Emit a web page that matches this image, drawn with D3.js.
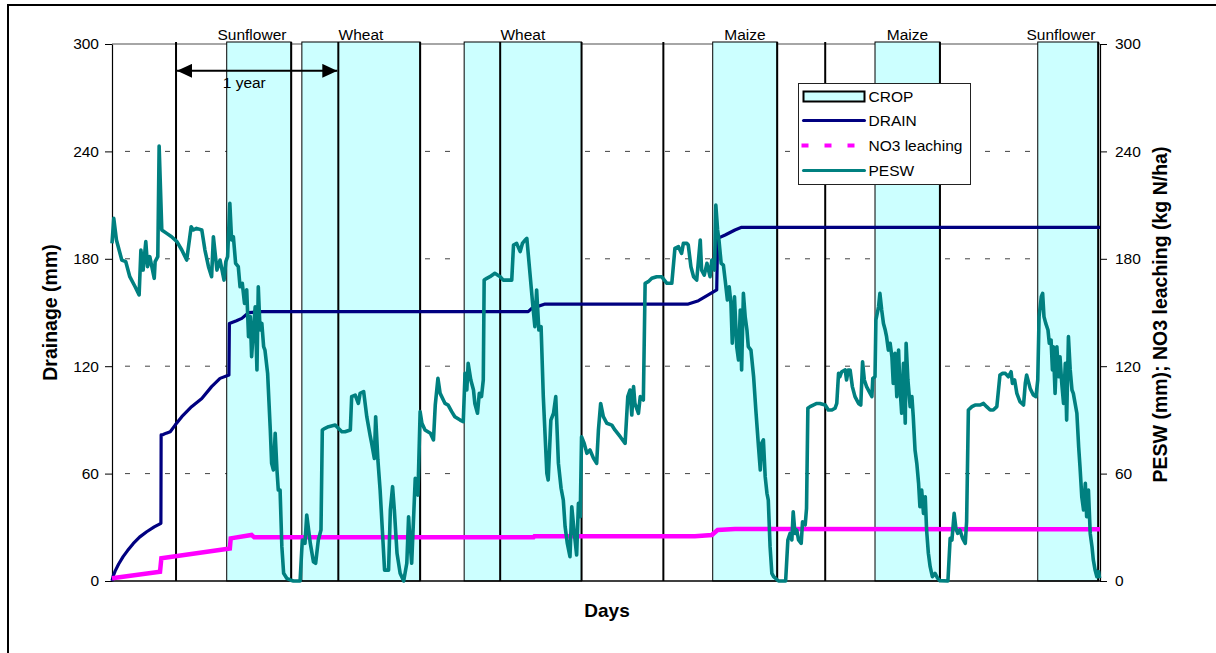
<!DOCTYPE html>
<html><head><meta charset="utf-8">
<script src="https://cdn.jsdelivr.net/npm/d3@7"></script>
<style>
body{margin:0;background:#fff}
svg{display:block}
text{font-family:"Liberation Sans",Arial,sans-serif;fill:#000}
</style>
</head><body>
<svg id="chart" width="1216" height="653"></svg>
<script>
// ---------------- data ----------------
const cropNames = ["Sunflower","Wheat","Wheat","Maize","Maize","Sunflower"];
const cropStart = [258, 427, 792, 1351, 1716, 2082];
const cropEnd   = [403, 693, 1056, 1496, 1862, 2218];
const yearMarks = [144, 509, 873, 1240, 1604];
const yTicks = [0, 60, 120, 180, 240, 300];
const dayDomain = [0, 2222];
const yearArrow = [144, 509];

const drainSeries = [[0,0],[3,3],[7,5.5],[15,9.5],[25,13.6],[35,17],[48,21],[62,24.5],[78,27.5],[95,30.2],[110,32.2],
  [110.5,81.6],[115,81.8],[122,82.6],[131,83.4],[142,87.1],[157,91.8],[179,97.4],[202,102],[224,108.6],[243,113.2],[263,115.1],
  [264,143.9],[280,145.4],[292,146.7],[307,149.9],[337,150.5],[936,150.5],[944,152.3],[974,154.7],[1296,154.7],[1319,156.6],
  [1341,159.8],[1360,162.6],[1362,191.4],[1379,193.3],[1401,196.1],[1416,197.6],[2222,197.6]];

const no3Series = [[0,1.5],[108,5.2],[111,12.7],[265,18.2],[267,23.8],[314,25.7],[320,24.4],[948,24.4],[950,25.0],
  [1311,25.0],[1349,25.7],[1362,28.5],[1401,29.0],[2222,28.9]];

const peswSeries = [
 [0,188.6],[4,202.6],[10,190.5],[22,179.3],[31,178.4],[40,170.0],[52,164.4],[61,159.8],[65,184.9],[70,173.7],[76,189.6],[80,175.6],
 [85,181.2],[95,169.1],[97,178.4],[103,181.2],[106,243.0],[112,196.1],[123,194.2],[134,192.3],[146,189.6],[157,184.9],[168,179.3],
 [178,197.9],[183,196.1],[190,197.0],[202,196.1],[209,184.9],[217,175.6],[224,170.0],[228,192.3],[236,173.7],[243,179.3],[252,168.1],
 [256,178.4],[260,181.2],[265,211.0],[269,190.5],[273,192.3],[278,177.5],[284,175.6],[288,164.4],[293,166.3],[298,155.1],[300,160.7],
 [303,162.6],[307,136.5],[311,147.7],[314,125.3],[318,140.2],[322,153.2],[326,117.9],[329,164.4],[333,140.2],[337,143.9],[341,130.9],
 [344,129.0],[350,116.0],[356,84.4],[359,65.7],[363,62.0],[367,82.5],[371,62.0],[374,50.8],[378,50.8],[382,19.2],[386,4.3],[393,1.5],
 [401,0.6],[408,0],[423,0],[428,22.9],[434,21.0],[438,36.9],[446,21.0],[453,10.8],[458,9.9],[464,22.9],[470,28.5],[473,84.4],
 [479,85.3],[487,86.2],[502,87.1],[509,85.3],[517,83.4],[524,83.4],[536,84.4],[539,103.0],[547,103.9],[554,99.2],[558,104.8],
 [566,105.8],[573,91.8],[581,80.6],[584,76.9],[590,68.5],[593,91.8],[598,67.6],[603,50.8],[608,28.5],[613,6.1],[622,6.1],[626,39.7],
 [631,52.7],[635,39.7],[641,15.5],[648,4.3],[656,0],[663,9.9],[667,35.9],[671,19.2],[674,9.9],[682,57.4],[688,48.0],[693,94.6],
 [697,88.1],[704,84.4],[716,82.5],[723,78.8],[727,98.3],[733,113.2],[738,104.8],[749,99.2],
 [756,98.3],[764,94.6],[771,91.8],[783,89.9],[790,89.0],[794,116.0],[798,106.7],[801,121.6],[807,112.3],[813,106.7],[816,99.2],
 [822,93.7],[826,104.8],[831,103.0],[835,112.3],[837,168.1],[843,169.1],[850,170.0],[861,171.9],[873,170.0],[880,168.1],[888,168.1],
 [899,168.1],[903,187.7],[910,188.6],[918,184.0],[923,188.6],[929,190.5],[933,191.4],[940,171.9],[946,155.1],[951,142.1],[955,162.6],
 [960,140.2],[965,142.1],[970,103.0],[978,60.1],[981,56.4],[987,89.9],[993,93.7],[998,103.0],[1004,65.7],[1010,51.8],[1015,45.2],
 [1019,30.4],[1024,21.0],[1030,13.6],[1034,41.5],[1039,28.5],[1045,14.5],[1049,43.4],[1053,35.9],[1056,80.6],[1062,76.9],[1068,71.3],
 [1075,73.2],[1083,68.5],[1090,65.7],[1094,84.4],[1099,99.2],[1105,91.8],[1113,88.1],[1124,87.1],[1131,84.4],[1143,80.6],[1154,76.9],
 [1160,103.0],[1165,106.7],[1169,92.7],[1173,108.6],[1176,99.2],[1184,93.7],[1188,103.0],[1195,101.1],[1199,166.3],[1206,167.2],
 [1214,169.1],[1225,170.0],[1236,170.0],[1248,166.3],[1259,166.3],[1266,185.8],[1274,186.8],[1281,183.0],[1285,188.6],[1293,188.6],
 [1296,187.7],[1302,175.6],[1308,170.0],[1315,168.1],[1323,190.5],[1326,173.7],[1332,170.9],[1338,177.5],[1345,170.0],[1349,179.3],
 [1355,173.7],[1358,210.0],[1362,196.1],[1365,190.5],[1370,177.5],[1375,176.5],[1379,168.1],[1384,157.0],[1388,164.4],[1392,155.1],
 [1395,132.8],[1400,158.8],[1405,130.9],[1409,123.5],[1413,151.4],[1416,117.9],[1420,160.7],[1424,147.7],[1428,140.2],[1431,130.9],
 [1437,129.0],[1443,114.1],[1448,95.5],[1454,75.0],[1458,62.0],[1461,76.9],[1465,78.8],[1469,58.3],[1473,49.0],[1476,45.2],
 [1480,19.2],[1484,4.3],[1488,2.4],
 [1499,0],[1515,0],[1520,22.9],[1525,26.6],[1529,22.9],[1532,38.7],[1536,26.6],[1540,28.5],[1544,22.9],[1550,21.0],[1553,33.1],
 [1559,31.3],[1562,40.6],[1565,96.5],[1570,97.4],[1577,98.3],[1585,99.2],[1592,99.2],[1604,98.3],[1611,95.5],[1619,95.5],[1626,96.5],
 [1630,99.2],[1634,116.0],[1637,114.1],[1641,116.9],[1649,117.9],[1652,112.3],[1656,117.9],[1660,117.9],[1665,108.6],[1671,103.0],
 [1679,99.2],[1684,98.3],[1688,122.5],[1692,112.3],[1697,108.6],[1705,104.8],[1709,103.0],[1711,113.2],[1716,114.1],[1718,145.8],
 [1724,153.2],[1727,160.7],[1731,151.4],[1735,143.9],[1739,140.2],[1742,136.5],[1746,129.0],[1750,132.8],[1754,125.3],[1757,110.4],
 [1761,127.2],[1765,103.0],[1769,129.0],[1772,108.6],[1776,93.7],[1780,121.6],[1784,88.1],[1786,132.8],[1790,112.3],[1795,97.4],
 [1799,103.0],[1802,91.8],[1806,73.2],[1810,65.7],[1814,54.6],[1817,41.5],[1821,50.8],[1825,37.8],[1829,47.1],[1832,28.5],[1836,15.5],
 [1840,8.0],[1845,2.4],[1851,4.3],[1857,1.5],[1862,0.2],[1880,0],[1885,23.8],[1889,22.9],[1894,37.8],[1898,29.4],[1902,26.6],
 [1907,28.5],[1913,23.8],[1919,21.0],[1922,33.1],[1926,95.5],[1934,97.4],[1941,98.3],[1952,98.3],[1960,99.2],[1967,97.4],[1975,95.5],
 [1982,95.5],[1990,97.4],[1997,115.1],[2003,116.0],[2009,116.0],[2016,114.1],[2022,116.9],[2025,110.4],[2030,112.3],[2035,104.8],
 [2042,100.2],[2050,98.3],[2054,110.4],[2057,115.1],[2065,107.6],[2072,103.9],[2078,103.0],[2082,112.3],[2085,147.7],[2090,158.8],
 [2093,160.7],[2096,147.7],[2100,143.9],[2105,140.2],[2108,132.8],[2112,134.6],[2115,117.9],[2117,130.9],[2121,104.8],[2125,130.9],
 [2129,114.1],[2132,125.3],[2136,110.4],[2140,99.2],[2144,121.6],[2147,89.9],[2151,136.5],[2155,117.9],[2159,106.7],[2162,104.8],
 [2170,93.7],[2174,75.0],[2177,63.9],[2181,47.1],[2185,39.7],[2189,54.6],[2192,35.9],[2196,50.8],[2200,26.6],[2204,19.2],[2207,11.7],
 [2211,6.1],[2215,2.4],[2219,5.2],[2221,1.5]];

const legendItems = ["CROP","DRAIN","NO3 leaching","PESW"];

// ---------------- drawing ----------------
const svg = d3.select("#chart");
const L = 112, R = 1100, T = 44, B = 581;
const x = d3.scaleLinear().domain(dayDomain).range([L, R]);
const y = d3.scaleLinear().domain([0, 300]).range([B, T]);

const C = {crop:"#CCFFFF", drain:"#000080", no3:"#FF00FF", pesw:"#008080"};

// outer frame (cropped at right/bottom)
svg.append("rect").attr("x",8).attr("y",5).attr("width",1240).attr("height",700)
  .attr("fill","none").attr("stroke","#000").attr("stroke-width",2);

// gridlines
svg.append("g").selectAll("line").data(yTicks.filter(t => t > 0 && t < 300)).join("line")
  .attr("x1", L).attr("x2", R).attr("y1", d => y(d)).attr("y2", d => y(d))
  .attr("stroke", "#444").attr("stroke-width", 1).attr("stroke-dasharray", "5,15").attr("stroke-dashoffset", 7);
// top line at 300
svg.append("line").attr("x1",L).attr("x2",R).attr("y1",y(300)).attr("y2",y(300))
  .attr("stroke","#888").attr("stroke-width",1.5);

// crop bars
const crops = cropNames.map((n,i) => ({name:n, s:cropStart[i], e:cropEnd[i]}));
svg.append("g").selectAll("rect").data(crops).join("rect")
  .attr("x", d => x(d.s)).attr("width", d => x(d.e) - x(d.s))
  .attr("y", y(300) - 2).attr("height", y(0) - y(300) + 2)
  .attr("fill", C.crop).attr("stroke", "#000").attr("stroke-width", 1);

// year marks and harvest lines
svg.append("g").selectAll("line").data(yearMarks.concat(cropEnd)).join("line")
  .attr("x1", d => x(d)).attr("x2", d => x(d)).attr("y1", y(300) - 2).attr("y2", y(0))
  .attr("stroke", "#000").attr("stroke-width", 2);

// crop labels
svg.append("g").selectAll("text").data(crops).join("text")
  .attr("x", d => x((d.s + d.e) / 2) - (d.name === "Sunflower" ? 7 : 0)).attr("y", y(300) - 4)
  .attr("text-anchor", "middle").style("font-size", "15.5px").text(d => d.name);

// axes
const yl = svg.append("g").attr("transform", `translate(${L},0)`)
  .call(d3.axisLeft(y).tickValues(yTicks).tickSize(7).tickPadding(6).tickSizeOuter(0));
const yr = svg.append("g").attr("transform", `translate(${R},0)`)
  .call(d3.axisRight(y).tickValues(yTicks).tickSize(7).tickPadding(8).tickSizeOuter(0));
[yl, yr].forEach(g => {
  g.select(".domain").attr("stroke", "#000").attr("stroke-width", 1.2);
  g.selectAll(".tick line").attr("stroke", "#000");
  g.selectAll(".tick text").style("font-size", "15.5px").style("font-family", '"Liberation Sans",Arial,sans-serif');
});
svg.append("line").attr("x1", L).attr("x2", R).attr("y1", B).attr("y2", B)
  .attr("stroke", "#000").attr("stroke-width", 1.5);

// series lines
const line = d3.line().x(d => x(d[0])).y(d => y(d[1]));
svg.append("path").datum(drainSeries).attr("d", line).attr("fill", "none")
  .attr("stroke", C.drain).attr("stroke-width", 3.2).attr("stroke-linejoin", "round");
svg.append("path").datum(no3Series).attr("d", line).attr("fill", "none")
  .attr("stroke", C.no3).attr("stroke-width", 4.5);
svg.append("path").datum(peswSeries).attr("d", line).attr("fill", "none")
  .attr("stroke", C.pesw).attr("stroke-width", 3.6).attr("stroke-linejoin", "round");

// 1 year arrow
const defs = svg.append("defs");
defs.append("marker").attr("id","ah").attr("viewBox","0 0 15 14").attr("refX",15).attr("refY",7)
  .attr("markerWidth",15).attr("markerHeight",14).attr("markerUnits","userSpaceOnUse").attr("orient","auto-start-reverse")
  .append("path").attr("d","M0,0L15,7L0,14Z").attr("fill","#000");
svg.append("line").attr("x1", x(yearArrow[0]) + 1).attr("x2", x(yearArrow[1]) - 1)
  .attr("y1", y(285)).attr("y2", y(285)).attr("stroke", "#000").attr("stroke-width", 2)
  .attr("marker-start", "url(#ah)").attr("marker-end", "url(#ah)");
svg.append("text").attr("x", x(249)).attr("y", y(275.6)).style("font-size", "15.5px").text("1 year");

// titles
svg.append("text").attr("transform", `translate(57,${(T + B) / 2}) rotate(-90)`)
  .attr("text-anchor", "middle").style("font-size", "19.5px").style("font-weight", "bold").text("Drainage (mm)");
svg.append("text").attr("transform", `translate(1167,${(T + B) / 2 + 2}) rotate(-90)`)
  .attr("text-anchor", "middle").style("font-size", "19.5px").style("font-weight", "bold")
  .text("PESW (mm); NO3 leaching (kg N/ha)");
svg.append("text").attr("x", (L + R) / 2 + 1).attr("y", 617).attr("text-anchor", "middle")
  .style("font-size", "19px").style("font-weight", "bold").text("Days");

// legend
const lg = svg.append("g").attr("transform", "translate(798.5,83.5)");
lg.append("rect").attr("width", 172).attr("height", 101).attr("fill", "#fff").attr("stroke", "#222").attr("stroke-width", 1);
const rowY = [13, 37, 62, 87];
lg.append("rect").attr("x", 5).attr("y", rowY[0] - 5).attr("width", 61).attr("height", 10)
  .attr("fill", C.crop).attr("stroke", "#000").attr("stroke-width", 2);
lg.append("line").attr("x1", 5).attr("x2", 66).attr("y1", rowY[1]).attr("y2", rowY[1])
  .attr("stroke", C.drain).attr("stroke-width", 3).attr("stroke-linecap", "round");
lg.append("line").attr("x1", 3).attr("x2", 66).attr("y1", rowY[2]).attr("y2", rowY[2])
  .attr("stroke", C.no3).attr("stroke-width", 4).attr("stroke-dasharray", "7,16");
lg.append("line").attr("x1", 5).attr("x2", 66).attr("y1", rowY[3]).attr("y2", rowY[3])
  .attr("stroke", C.pesw).attr("stroke-width", 3).attr("stroke-linecap", "round");
lg.selectAll("text.li").data(legendItems).join("text").attr("class", "li")
  .attr("x", 70).attr("y", (d, i) => rowY[i] + 5.5).style("font-size", "15.5px").text(d => d);
</script>
</body></html>
